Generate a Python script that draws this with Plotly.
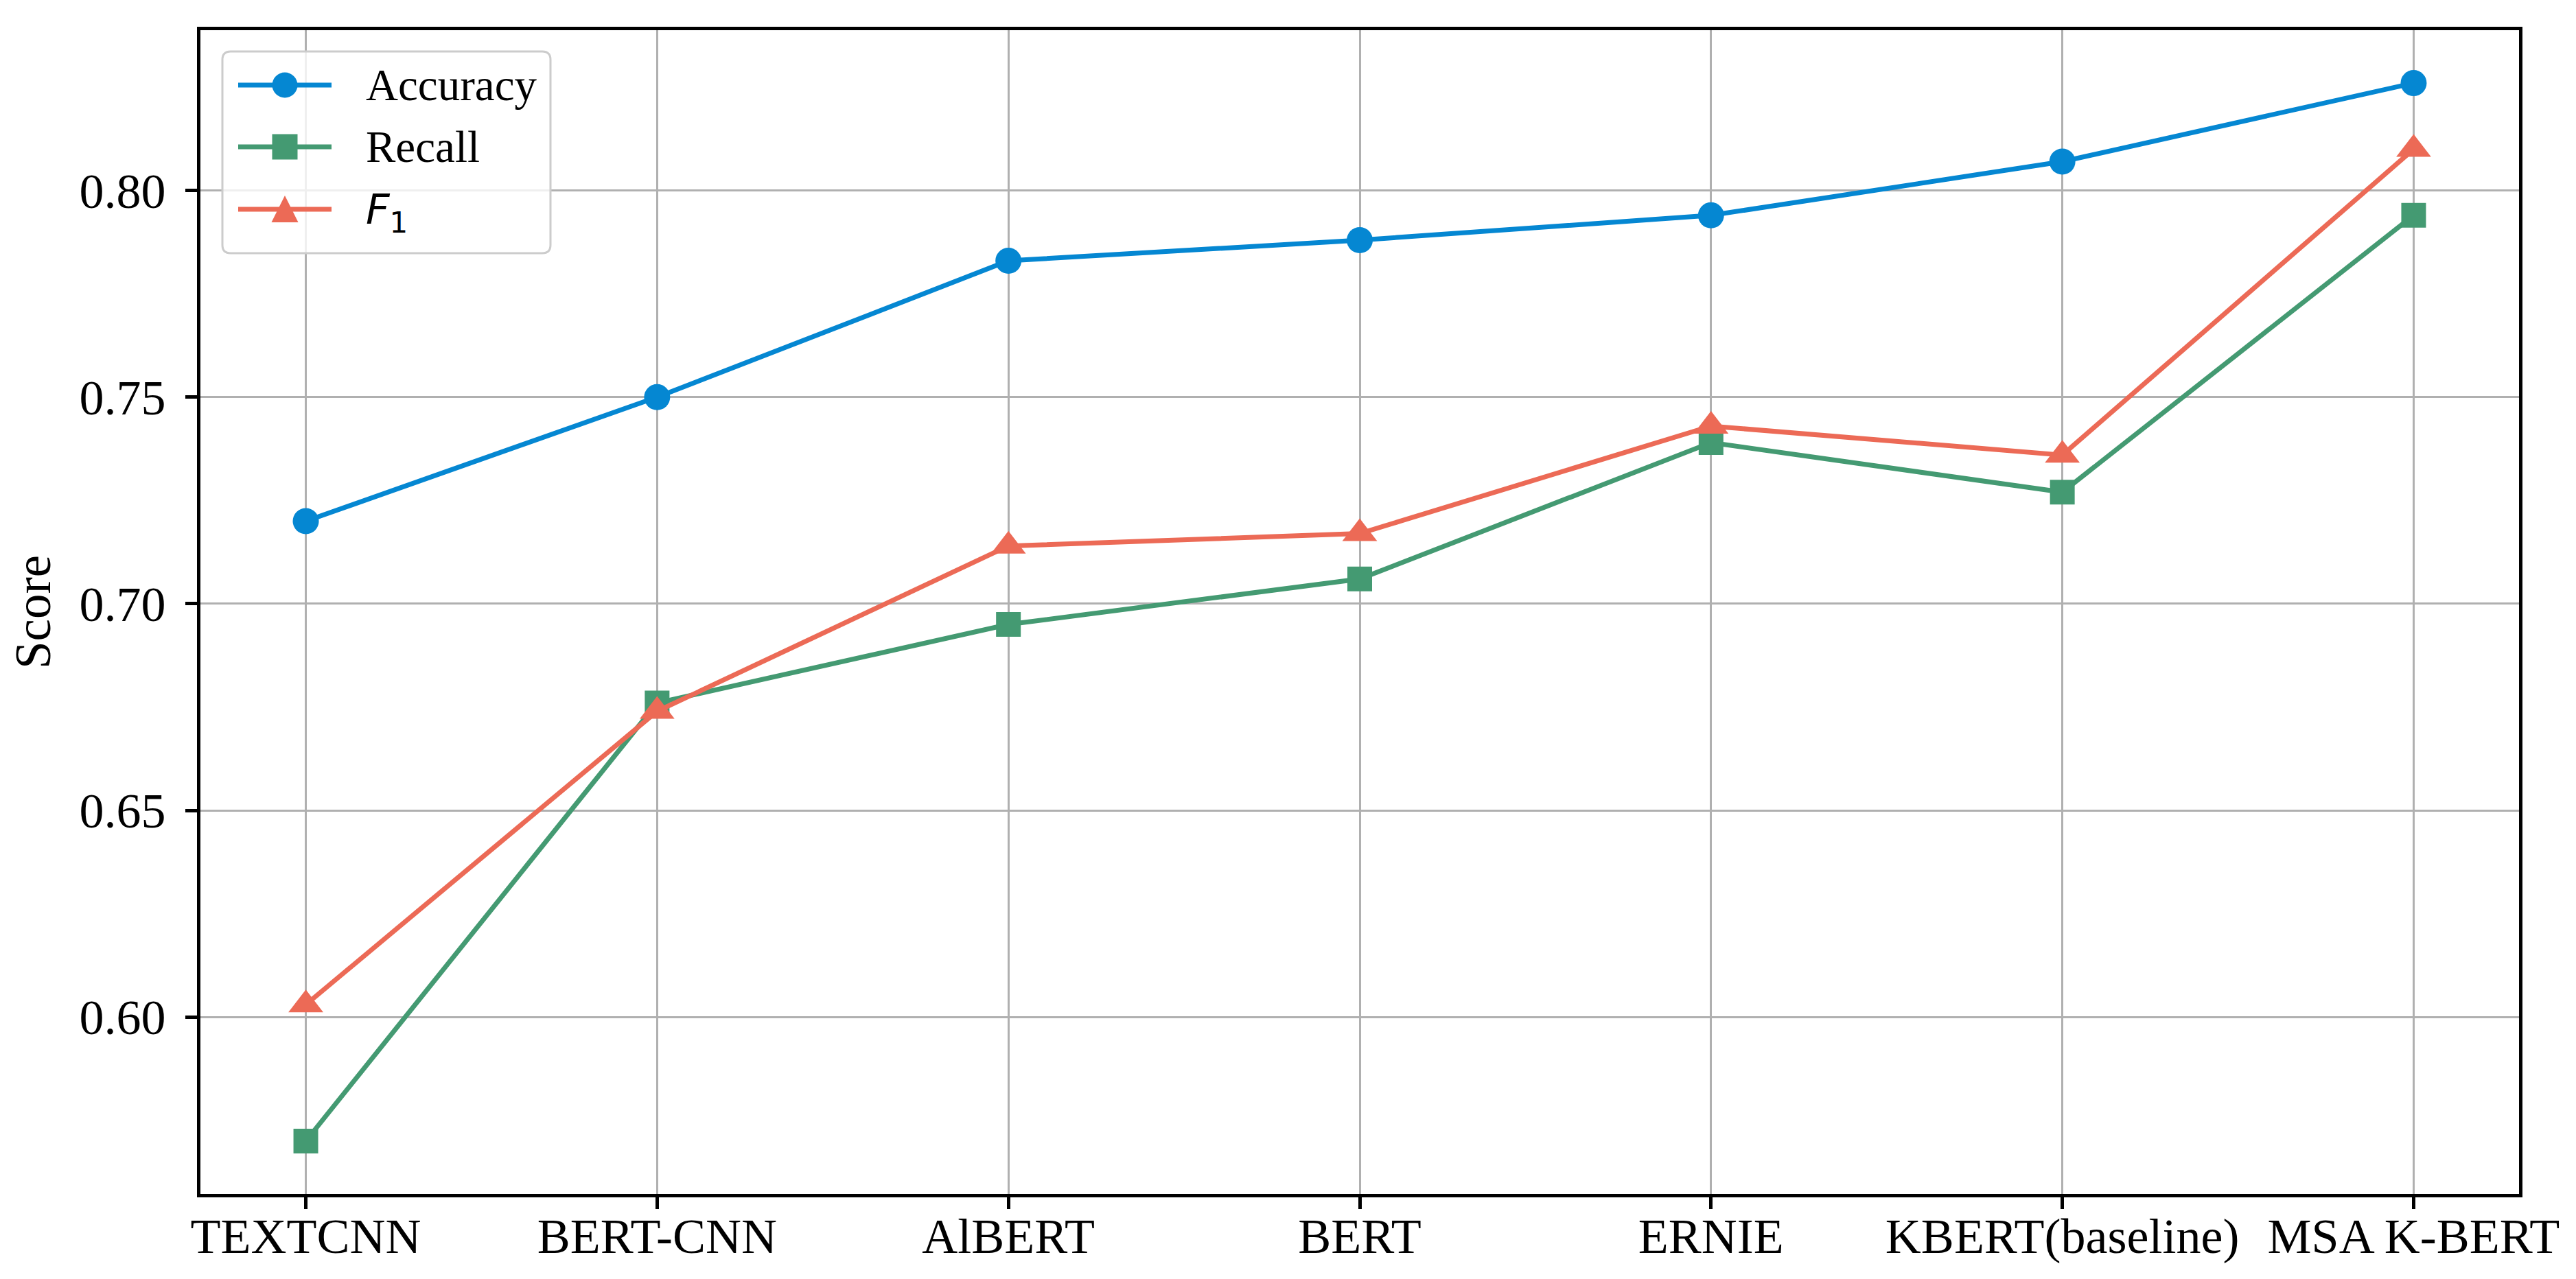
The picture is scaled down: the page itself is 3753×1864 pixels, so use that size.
import plotly.graph_objects as go

# data
models = ["TEXTCNN", "BERT-CNN", "AlBERT", "BERT", "ERNIE", "KBERT(baseline)", "MSA K-BERT"]
accuracy = [0.720, 0.750, 0.783, 0.788, 0.794, 0.807, 0.826]
recall = [0.570, 0.676, 0.695, 0.706, 0.739, 0.727, 0.794]
f1 = [0.603, 0.674, 0.714, 0.717, 0.743, 0.736, 0.810]
y_ticks = [0.60, 0.65, 0.70, 0.75, 0.80]

BLUE = "#0587d2"
GREEN = "#449a72"
CORAL = "#ec6a56"
FONT = "Liberation Serif"

W, H = 3753, 1864
LINE_W = 7

series = [
    ("Accuracy", accuracy, BLUE, "circle", 38),
    ("Recall", recall, GREEN, "square", 36),
    ("<i>F</i><sub>1</sub>", f1, CORAL, "triangle-up", 44),
]

fig = go.Figure()
x_idx = list(range(len(models)))
for name, vals, color, sym, size in series:
    fig.add_trace(go.Scatter(
        x=x_idx, y=vals, name=name, mode="lines+markers",
        line=dict(color=color, width=LINE_W),
        marker=dict(symbol=sym, size=size, color=color, line=dict(width=0)),
        showlegend=False,
    ))

# hand-drawn legend (plotly caps legend marker size), pixel offsets from plot top-left
shapes = []
box_l, box_r, box_t, box_b, rad = 32, 510, -31, -325, 12
box_path = (f"M{box_l + rad},{box_t} H{box_r - rad} Q{box_r},{box_t} {box_r},{box_t - rad} "
            f"V{box_b + rad} Q{box_r},{box_b} {box_r - rad},{box_b} H{box_l + rad} "
            f"Q{box_l},{box_b} {box_l},{box_b + rad} V{box_t - rad} Q{box_l},{box_t} {box_l + rad},{box_t} Z")
pix = dict(xref="paper", yref="paper", xsizemode="pixel", ysizemode="pixel",
           xanchor=0, yanchor=1, layer="above")
shapes.append(dict(type="path", path=box_path, fillcolor="rgba(255,255,255,0.8)",
                   line=dict(color="#cccccc", width=3), **pix))

row_y = [-80, -170, -261]
mx, half = 123, 18.5
annotations = []
for (name, vals, color, sym, size), ry in zip(series, row_y):
    shapes.append(dict(type="line", x0=55, x1=191, y0=ry, y1=ry,
                       line=dict(color=color, width=LINE_W), **pix))
    if sym == "circle":
        shapes.append(dict(type="circle", x0=mx - half, x1=mx + half, y0=ry - half, y1=ry + half,
                           fillcolor=color, line=dict(width=0), **pix))
    elif sym == "square":
        shapes.append(dict(type="rect", x0=mx - half, x1=mx + half, y0=ry - half, y1=ry + half,
                           fillcolor=color, line=dict(width=0), **pix))
    else:
        tri = f"M{mx - 19.5},{ry - 19} L{mx + 19.5},{ry - 19} L{mx},{ry + 20} Z"
        shapes.append(dict(type="path", path=tri, fillcolor=color, line=dict(width=0), **pix))
    is_f1 = name.startswith("<i>")
    annotations.append(dict(
        xref="paper", yref="paper", x=0, y=1, xshift=239, yshift=ry - (4 if is_f1 else 0),
        xanchor="left", yanchor="middle", showarrow=False, text=name,
        font=dict(family="DejaVu Sans" if is_f1 else FONT, size=60 if is_f1 else 65, color="black"),
    ))

axis_common = dict(
    showline=True, linecolor="black", linewidth=5, mirror=True,
    ticks="outside", ticklen=17, tickwidth=5, tickcolor="black",
    showgrid=True, gridcolor="#b0b0b0", gridwidth=3, zeroline=False,
    tickfont=dict(family=FONT, size=72, color="black"),
)

fig.update_layout(
    width=W, height=H,
    margin=dict(l=284, r=91, t=36, b=132),
    paper_bgcolor="white", plot_bgcolor="white",
    xaxis=dict(range=[-0.3, 6.3], tickmode="array", tickvals=x_idx, ticktext=models,
               ticklabelstandoff=-22, **axis_common),
    yaxis=dict(range=[0.5572, 0.8388], tickmode="array", tickvals=y_ticks,
               ticktext=[f"{v:.2f}" for v in y_ticks], ticklabelstandoff=14,
               title=dict(text="Score", font=dict(family=FONT, size=73, color="black"), standoff=30),
               **axis_common),
    shapes=shapes,
    annotations=annotations,
)

fig.write_html("out.html")
